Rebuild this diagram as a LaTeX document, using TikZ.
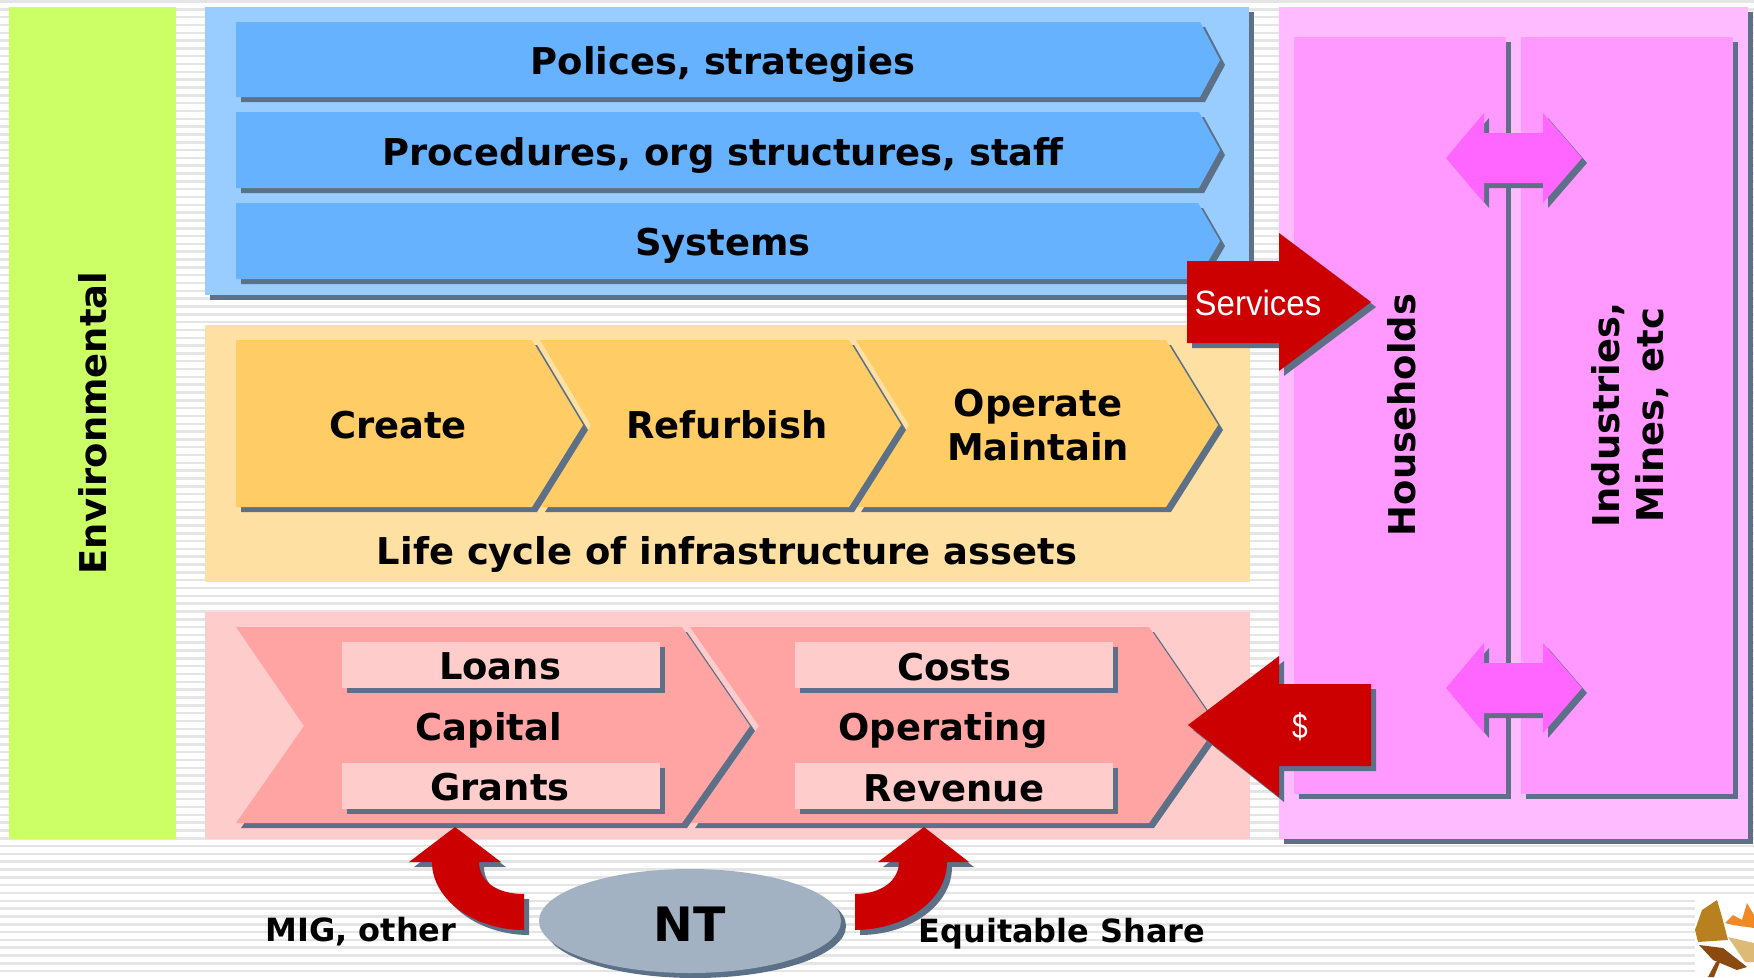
\documentclass[tikz,border=0pt]{standalone}
\usepackage{fontspec}
\setmainfont{DejaVu Sans}
\newfontfamily\nrw{Liberation Sans}
\definecolor{shd}{HTML}{5C7088}
\definecolor{envc}{HTML}{CCFF66}
\definecolor{bluo}{HTML}{99CCFF}
\definecolor{blui}{HTML}{66B2FF}
\definecolor{orao}{HTML}{FFE0A3}
\definecolor{orai}{HTML}{FFCC66}
\definecolor{redo}{HTML}{FFCCCC}
\definecolor{redi}{HTML}{FFA3A3}
\definecolor{pnko}{HTML}{FFBBFF}
\definecolor{pnki}{HTML}{FF99FF}
\definecolor{pnka}{HTML}{FF66FF}
\definecolor{arw}{HTML}{CC0000}
\definecolor{ntc}{HTML}{A3B2C2}
\definecolor{wng}{HTML}{B8801F}
\definecolor{wnl}{HTML}{8B4A10}
\definecolor{crw}{HTML}{F08A24}
\definecolor{bdy}{HTML}{DDBB77}
\tikzstyle{sd}=[preaction={fill=shd,transform canvas={xshift=.1cm,yshift=-.1cm}}]
\tikzstyle{tx}=[font=\fontsize{21}{25.5}\selectfont\bfseries,text=black,inner sep=0pt,align=center]
\tikzstyle{lb}=[font=\fontsize{18.2}{22}\selectfont\bfseries,text=black,inner sep=0pt]
\tikzstyle{wt}=[font=\fontsize{20}{24}\selectfont\nrw,text=white,inner sep=0pt]
\begin{document}
\begin{tikzpicture}[x=.02cm,y=-.02cm]
\useasboundingbox (0,0) rectangle (1754,977);
\fill[white] (0,0) rectangle (1754,977);
\foreach \yy in {0,...,124} \draw[line width=.05cm,black!10] (0,1.5+7.82*\yy) -- (1754,1.5+7.82*\yy);
\fill[envc] (9,7) rectangle (176,839);
\fill[bluo,sd] (205,7) rectangle (1249,295);
\fill[blui,sd] (236,22) -- (1200,22) -- (1220,60) -- (1200,97) -- (236,97) -- cycle;
\fill[blui,sd] (236,112) -- (1199,112) -- (1220,150) -- (1199,188) -- (236,188) -- cycle;
\fill[blui,sd] (236,203) -- (1198,203) -- (1220,241) -- (1198,279) -- (236,279) -- cycle;
\fill[orao] (205,325) rectangle (1250,582);
\fill[orai,sd] (856,340) -- (1166,340) -- (1218,425) -- (1166,507) -- (856,507) -- (909,425) -- cycle;
\fill[orai,sd] (540,340) -- (849,340) -- (901,425) -- (849,507) -- (540,507) -- (591,425) -- cycle;
\fill[orai,sd] (236,340) -- (532,340) -- (583,425) -- (532,507) -- (236,507) -- cycle;
\fill[redo] (205,612) rectangle (1250,839);
\fill[redi,sd] (690,627) -- (1149,627) -- (1217,726) -- (1149,823) -- (690,823) -- (759,726) -- cycle;
\fill[redi,sd] (236,627) -- (682,627) -- (750,726) -- (682,823) -- (236,823) -- (304,726) -- cycle;
\fill[redo,sd] (342,642) rectangle (660,688);
\fill[redo,sd] (342,763) rectangle (660,809);
\fill[redo,sd] (795,642) rectangle (1113,688);
\fill[redo,sd] (795,763) rectangle (1113,809);
\fill[pnko,sd] (1279,7) rectangle (1748,839);
\fill[pnki,sd] (1294,37) rectangle (1506,794);
\fill[pnki,sd] (1521,37) rectangle (1733,794);
\fill[pnka,sd] (1446,158) -- (1484,113) -- (1484,133) -- (1543,133) -- (1543,113) -- (1582,158) -- (1543,203) -- (1543,183) -- (1484,183) -- (1484,203) -- cycle;
\fill[pnka,sd] (1446,688) -- (1484,643) -- (1484,663) -- (1543,663) -- (1543,643) -- (1582,688) -- (1543,733) -- (1543,713) -- (1484,713) -- (1484,733) -- cycle;
\fill[arw,sd] (1187,261) -- (1279,261) -- (1279,233) -- (1371,302) -- (1279,371) -- (1279,343) -- (1187,343) -- cycle;
\fill[arw,sd] (1188,725) -- (1279,656) -- (1279,684) -- (1371,684) -- (1371,766) -- (1279,766) -- (1279,797) -- cycle;
\fill[arw,sd] (524,894) .. controls (495,894) and (479,880) .. (479,862) -- (501,862) -- (455,827) -- (409,862) -- (432,862) .. controls (432,900) and (475,930) .. (524,930) -- cycle;
\fill[arw,sd] (855,894) .. controls (882,894) and (899,880) .. (899,862) -- (878,862) -- (924,827) -- (969,862) -- (947,862) .. controls (947,900) and (905,930) .. (855,930) -- cycle;
\fill[ntc,sd] (690,921) ellipse (151 and 52);
\fill[white] (1695,898) rectangle (1754,977);
\fill[wng] (1702,910) -- (1717,900) -- (1722,917) -- (1728,940) -- (1698,942) -- (1695,930) -- cycle;
\fill[wnl] (1699,945) -- (1723,948) -- (1747,967) -- (1737,970) -- (1713,960) -- cycle;
\fill[crw] (1725,923) -- (1733,915) -- (1742,920) -- (1747,903) -- (1754,915) -- (1754,928) -- (1733,925) -- cycle;
\fill[bdy] (1728,937) -- (1754,943) -- (1754,962) -- (1745,962) -- cycle;
\fill[wnl] (1708,977) -- (1716,962) -- (1720,962) -- (1714,977) -- cycle;
\node[tx,rotate=90] (env) at (93,423) {Environmental};
\node[tx] (pol) at (723,64) {Polices, strategies};
\node[tx] (prc) at (723,155) {Procedures, org structures, staff};
\node[tx] (sys) at (723,246) {Systems};
\node[tx] (cre) at (398,425) {Create};
\node[tx] (ref) at (727,425) {Refurbish};
\node[tx] (opm) at (1038,425) {Operate\\Maintain};
\node[tx] (lif) at (727,554) {Life cycle of infrastructure assets};
\node[tx] (loa) at (500,666) {Loans};
\node[tx] (cap) at (489,730) {Capital};
\node[tx] (gra) at (500,787) {Grants};
\node[tx] (cos) at (954,667) {Costs};
\node[tx] (opr) at (943,730) {Operating};
\node[tx] (rev) at (954,788) {Revenue};
\node[tx,rotate=90] (hou) at (1402,415) {Households};
\node[tx,rotate=90] (ind) at (1630,415) {Industries,\\Mines, etc};
\node[wt] (svc) at (1258,303) {\scalebox{.94}[1]{Services}};
\node[wt] (dol) at (1300,727) {\scalebox{.8}[1]{\$}};
\node[font=\fontsize{27}{32}\selectfont\bfseries,text=black,inner sep=0pt] (nt) at (690,924) {NT};
\node[lb] (mig) at (361,932) {MIG, other};
\node[lb] (equ) at (1062,934) {Equitable Share};
\end{tikzpicture}
\end{document}
